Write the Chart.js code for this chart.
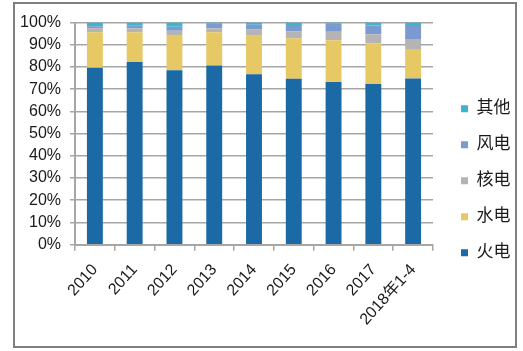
<!DOCTYPE html>
<html>
<head>
<meta charset="utf-8">
<script src="https://cdn.jsdelivr.net/npm/chart.js@4.4.1/dist/chart.umd.min.js"></script>
<style>
  html, body { margin: 0; padding: 0; background: #fff; }
  body { width: 523px; height: 351px; position: relative; overflow: hidden; }
  #frame {
    position: absolute; left: 13px; top: 2px; width: 504px; height: 346px;
    box-sizing: border-box; border: 2px solid #7f7f7f;
  }
  #frame canvas { display: block; }
</style>
</head>
<body>
<div id="frame"><canvas id="mix" width="500" height="342"></canvas></div>
<script>
// 发电量结构（%）
const years = ['2010', '2011', '2012', '2013', '2014', '2015', '2016', '2017', '2018年1-4'];
const thermal = [79.7, 82.2, 78.5, 80.7, 76.7, 74.7, 73.3, 72.3, 74.8];
const hydro   = [15.9, 13.4, 15.9, 14.9, 17.7, 18.2, 18.8, 18.4, 13.3];
const nuclear = [1.9, 1.9, 1.9, 1.9, 2.5, 3.1, 3.8, 4.1, 4.5];
const wind    = [0.9, 1.3, 1.8, 2.2, 2.1, 2.5, 3.8, 3.9, 5.9];
const other   = [1.6, 1.2, 1.9, 0.3, 1.0, 1.5, 0.3, 1.3, 1.5];
const yTicks  = [0, 10, 20, 30, 40, 50, 60, 70, 80, 90, 100];

const FONT = "'Liberation Sans', Arial, 'Noto Sans CJK SC', sans-serif";
const ink = '#1a1a1a';
const gridGray = '#a6a6a6';

const series = [
  { label: '火电', data: thermal, backgroundColor: '#1b6aa5' },
  { label: '水电', data: hydro,   backgroundColor: '#e6c964' },
  { label: '核电', data: nuclear, backgroundColor: '#b4b4b4' },
  { label: '风电', data: wind,    backgroundColor: '#7b9bd0' },
  { label: '其他', data: other,   backgroundColor: '#3db5cf' }
];

new Chart(document.getElementById('mix'), {
  type: 'bar',
  data: {
    labels: years,
    datasets: series.map(s => ({ ...s, barPercentage: 0.4, categoryPercentage: 1, borderWidth: 0 }))
  },
  options: {
    responsive: false,
    animation: false,
    layout: { padding: { left: 5, top: 7.4, right: 0, bottom: 7 } },
    plugins: {
      tooltip: { enabled: false },
      legend: {
        position: 'right',
        reverse: true,
        maxWidth: 73,
        // 空标题只用来把图例往下推一点
        title: { display: true, text: '', font: { size: 1 }, padding: { top: 10, bottom: 0 } },
        labels: {
          boxWidth: 7, boxHeight: 7, padding: 19, color: ink,
          font: { family: FONT, size: 17 }
        }
      }
    },
    scales: {
      x: {
        stacked: true,
        grid: { drawOnChartArea: false, color: gridGray, lineWidth: 1.5, tickLength: 6 },
        border: { color: gridGray, width: 2 },
        ticks: { color: ink, font: { family: FONT, size: 16 }, minRotation: 48, maxRotation: 48, padding: 10, autoSkip: false }
      },
      y: {
        stacked: true,
        min: 0, max: 100,
        afterBuildTicks: s => { s.ticks = yTicks.map(v => ({ value: v })); },
        afterFit: s => { s.width = 55; },
        grid: { color: gridGray, lineWidth: 1.5, tickLength: 5 },
        border: { color: gridGray, width: 2 },
        ticks: { color: ink, font: { family: FONT, size: 16 }, padding: 9, autoSkip: false, callback: v => v + '%' }
      },
      // 图例与绘图区之间的留白
      gap: {
        position: 'right', display: true,
        grid: { display: false }, border: { display: false }, ticks: { display: false },
        afterFit: s => { s.width = 9; }
      }
    }
  }
});
</script>
</body>
</html>
